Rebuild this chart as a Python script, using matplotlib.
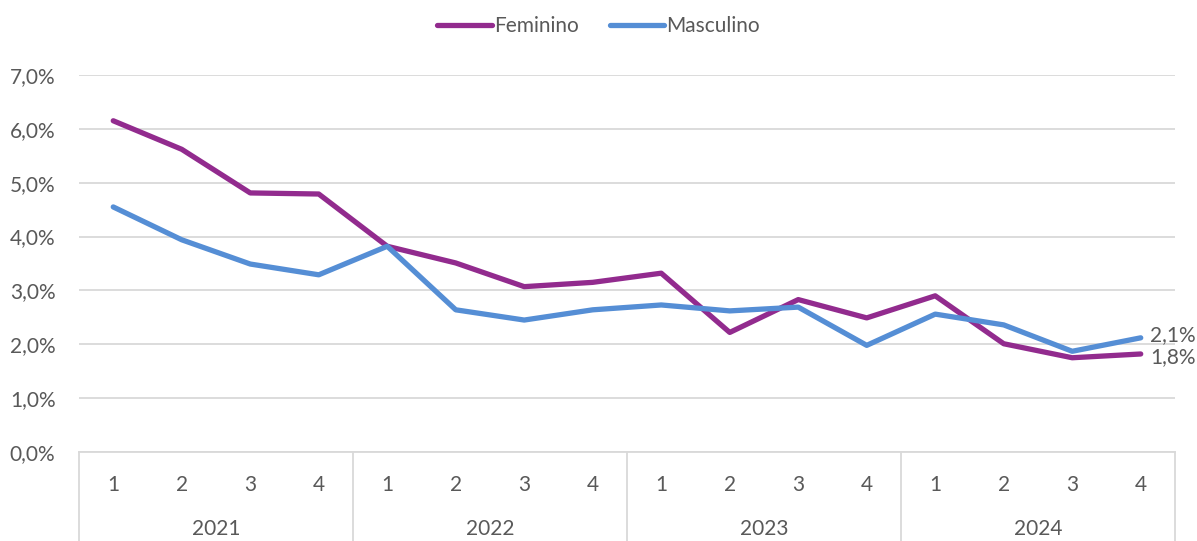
import matplotlib
matplotlib.use("Agg")
import matplotlib.pyplot as plt
from matplotlib.ticker import FuncFormatter, MultipleLocator

years = ["2021", "2022", "2023", "2024"]
quarters = ["1", "2", "3", "4"]
feminino = [6.15, 5.62, 4.81, 4.79, 3.82, 3.51, 3.07, 3.15, 3.32, 2.22, 2.83, 2.49, 2.90, 2.01, 1.75, 1.82]
masculino = [4.55, 3.94, 3.49, 3.29, 3.82, 2.64, 2.45, 2.64, 2.73, 2.62, 2.69, 1.98, 2.56, 2.36, 1.87, 2.12]
end_labels = ["1,8%", "2,1%"]

TXT = "#595959"
FEM_C = "#922B8E"
MAS_C = "#558ED5"
GRID = "#D9D9D9"
FONT = "Lato"
FS = 15

plt.rcParams['font.family'] = [FONT, 'DejaVu Sans']

fig = plt.figure(figsize=(11.97, 5.41), dpi=100)
ax = fig.add_axes([0.066, 0.1645, 0.9156, 0.6969])

n = len(feminino)
x = list(range(n))
ax.plot(x, feminino, color=FEM_C, lw=3.8, solid_capstyle='round', solid_joinstyle='round', label="Feminino", zorder=3)
ax.plot(x, masculino, color=MAS_C, lw=3.8, solid_capstyle='round', solid_joinstyle='round', label="Masculino", zorder=3)

ax.set_xlim(-0.5, n - 0.5)
ax.set_ylim(0, 7)
ax.yaxis.set_major_locator(MultipleLocator(1))
ax.yaxis.set_major_formatter(FuncFormatter(lambda v, p: f"{v:.1f}%".replace(".", ",")))
ax.grid(axis='y', color=GRID, lw=1.3)
ax.set_axisbelow(True)
for s in ["top", "right", "left"]:
    ax.spines[s].set_visible(False)
ax.spines["bottom"].set_color(GRID)
ax.spines["bottom"].set_linewidth(1.3)
ax.tick_params(axis='y', length=0, pad=17, labelsize=FS, labelcolor=TXT)
ax.set_xticks([])

# category labels
trans = ax.get_xaxis_transform()
for i in range(n):
    ax.text(i, -0.088, quarters[i % 4], transform=trans, ha='center', va='center',
            fontsize=FS, color=TXT)
for j, yname in enumerate(years):
    ax.text(j * 4 + 1.5, -0.205, yname, transform=trans, ha='center', va='center',
            fontsize=FS, color=TXT)
bottom = -0.1645 / 0.6969
for k in range(len(years) + 1):
    ax.plot([k * 4 - 0.5, k * 4 - 0.5], [0, bottom], transform=trans, color=GRID,
            lw=1.3, clip_on=False)

# end labels
ax.annotate(end_labels[0], (n - 1, feminino[-1]), xytext=(7, -2), textcoords='offset points',
            ha='left', va='center', fontsize=FS, color=TXT)
ax.annotate(end_labels[1], (n - 1, masculino[-1]), xytext=(7, 2), textcoords='offset points',
            ha='left', va='center', fontsize=FS, color=TXT)

leg = fig.legend(loc='upper center', bbox_to_anchor=(0.5, 1.005), ncol=2, frameon=False,
                 fontsize=FS, handlelength=2.6, handletextpad=0.1, columnspacing=1.5)
for t in leg.get_texts():
    t.set_color(TXT)

fig.savefig("out.png", dpi=100)
